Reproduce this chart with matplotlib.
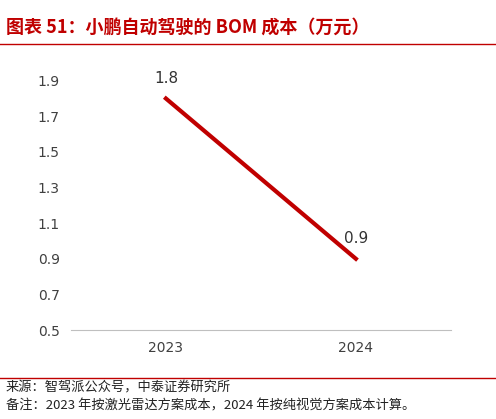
import matplotlib
matplotlib.use("Agg")
import matplotlib.pyplot as plt
from matplotlib.lines import Line2D

plt.rcParams['font.family'] = ['Noto Sans CJK SC', 'DejaVu Sans']

years = ["2023", "2024"]
cost = [1.8, 0.9]
yticks = [0.5, 0.7, 0.9, 1.1, 1.3, 1.5, 1.7, 1.9]

fig = plt.figure(figsize=(4.96, 4.19), dpi=100)
ax = fig.add_axes([0.143, 0.2124, 0.766, 0.595])
x = list(range(len(years)))
ax.plot(x, cost, color="#C00000", lw=3)
for xi, v in zip(x, cost):
    ax.annotate(f"{v}", (xi, v), xytext=(0, 9), textcoords="offset points",
                ha="center", va="bottom", fontsize=11, color="#333333", family="DejaVu Sans")
ax.set_xlim(-0.5, 1.5)
ax.set_ylim(0.5, 1.9)
ax.set_yticks(yticks)
ax.set_yticklabels([f"{t:.1f}" for t in yticks], family="DejaVu Sans")
ax.set_xticks(x)
ax.set_xticklabels(years, family="DejaVu Sans")
ax.tick_params(length=0, labelsize=10, colors="#404040", pad=8)
for s in ["top", "right", "left"]:
    ax.spines[s].set_visible(False)
ax.spines["bottom"].set_color("#BFBFBF")

red = "#C00000"
fig.text(0.012, 0.935, "图表 51：小鹏自动驾驶的 BOM 成本（万元）", color=red,
         fontsize=13, fontweight="bold", style="italic", va="center")
fig.add_artist(Line2D([0.0, 1.0], [0.895, 0.895], color=red, lw=1, transform=fig.transFigure))
fig.add_artist(Line2D([0.0, 1.0], [0.098, 0.098], color=red, lw=1, transform=fig.transFigure))
fig.text(0.012, 0.075, "来源：智驾派公众号，中泰证券研究所", fontsize=9.5, color="#222222", va="center")
fig.text(0.012, 0.032, "备注：2023 年按激光雷达方案成本，2024 年按纯视觉方案成本计算。", fontsize=9.5, color="#222222", va="center")

fig.savefig("out.png", dpi=100)
